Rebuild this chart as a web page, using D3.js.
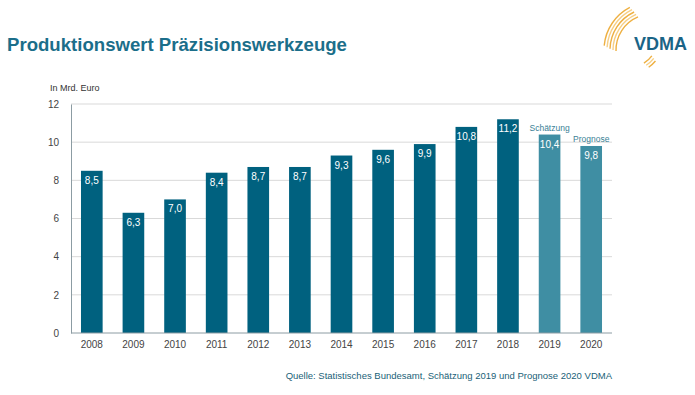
<!doctype html>
<html>
<head>
<script type='text/javascript' src='https://d3js.org/d3.v7.min.js'></script>
<style>
body { margin:0; background:#fff; }
text { font-family: Arial, 'Liberation Sans', sans-serif; }
</style>
</head>
<body>
<script>
var width = 695, height = 395;
var years = ['2008','2009','2010','2011','2012','2013','2014','2015','2016','2017','2018','2019','2020'];
var values = [8.5, 6.3, 7.0, 8.4, 8.7, 8.7, 9.3, 9.6, 9.9, 10.8, 11.2, 10.4, 9.8];
var notes = {'2019': 'Schätzung', '2020': 'Prognose'};
var yTicks = [0, 2, 4, 6, 8, 10, 12];

var svg = d3.select('body').append('svg').attr('width', width).attr('height', height);

var margin = {left: 71, right: 83, top: 104, bottom: 62};
var x = d3.scaleBand().domain(years).range([margin.left, width - margin.right]).paddingInner(0.48).paddingOuter(0.24);
var y = d3.scaleLinear().domain([0, 12]).range([height - margin.bottom, margin.top]);

// title
svg.append('text').attr('x', 7).attr('y', 51)
 .attr('font-size', 18.6).attr('font-weight', 'bold').attr('fill', '#1b6e8a')
 .text('Produktionswert Präzisionswerkzeuge');

// logo: golden swooshes + VDMA
var logo = svg.append('g').attr('transform', 'translate(652,50)');
[36, 39, 42, 45, 48].forEach(function(r, i) {
 logo.append('path')
  .attr('d', d3.arc()({innerRadius: r - 0.7, outerRadius: r + 0.7, startAngle: -1.6 + i * 0.03, endAngle: -0.4 - i * 0.02}))
  .attr('fill', i % 2 ? '#f6cf85' : '#eeb042');
});
var logo2 = svg.append('g').attr('transform', 'translate(630,40)');
[27, 30, 33].forEach(function(r, i) {
 logo2.append('path')
  .attr('d', d3.arc()({innerRadius: r - 0.7, outerRadius: r + 0.7, startAngle: 2.2 + i * 0.03, endAngle: 2.6 - i * 0.03}))
  .attr('fill', i % 2 ? '#f6cf85' : '#eeb042');
});
svg.append('text').attr('x', 634).attr('y', 50)
 .attr('font-size', 18).attr('font-weight', 'bold').attr('fill', '#1a6486')
 .text('VDMA');

// unit
svg.append('text').attr('x', 50).attr('y', 91).attr('font-size', 9).attr('fill', '#333').text('In Mrd. Euro');

// grid
svg.append('g').selectAll('line').data(yTicks.filter(function(d){return d > 0;})).join('line')
 .attr('x1', margin.left).attr('x2', width - margin.right)
 .attr('y1', function(d){return y(d);}).attr('y2', function(d){return y(d);})
 .attr('stroke', '#d9d9d9').attr('stroke-width', 1);

// y axis
var yAxis = svg.append('g').attr('transform', 'translate(' + margin.left + ',0)')
 .call(d3.axisLeft(y).tickValues(yTicks).tickSize(0).tickPadding(12));
yAxis.select('.domain').attr('stroke', '#8c9ca3');
yAxis.selectAll('text').attr('font-size', 10).attr('fill', '#444').attr('font-family', 'Arial, sans-serif');

// bars
svg.append('g').selectAll('rect').data(years).join('rect')
 .attr('x', function(d){return x(d);})
 .attr('width', x.bandwidth())
 .attr('y', function(d, i){return y(values[i]);})
 .attr('height', function(d, i){return y(0) - y(values[i]);})
 .attr('fill', function(d){return notes[d] ? '#3f8ea3' : '#00617f';});

// value labels
svg.append('g').selectAll('text').data(years).join('text')
 .attr('x', function(d){return x(d) + x.bandwidth() / 2;})
 .attr('y', function(d, i){return y(values[i]) + 13;})
 .attr('text-anchor', 'middle').attr('font-size', 10).attr('fill', '#fff')
 .text(function(d, i){return values[i].toFixed(1).replace('.', ',');});

svg.append('g').selectAll('text').data(years.filter(function(d){return notes[d];})).join('text')
 .attr('x', function(d){return x(d) + x.bandwidth() / 2;})
 .attr('y', function(d){return y(values[years.indexOf(d)]) - 4;})
 .attr('text-anchor', 'middle').attr('font-size', 8.5).attr('fill', '#3a7f96')
 .text(function(d){return notes[d];});

// x axis
var xAxis = svg.append('g').attr('transform', 'translate(0,' + y(0) + ')')
 .call(d3.axisBottom(x).tickSize(0).tickPadding(8));
xAxis.select('.domain').attr('stroke', '#8c9ca3').attr('d', 'M' + margin.left + ',0H' + (width - margin.right));
xAxis.selectAll('text').attr('font-size', 10).attr('fill', '#444').attr('font-family', 'Arial, sans-serif');

// source
svg.append('text').attr('x', 612).attr('y', 379).attr('text-anchor', 'end')
 .attr('font-size', 9.5).attr('fill', '#1a5f78')
 .text('Quelle: Statistisches Bundesamt, Schätzung 2019 und Prognose 2020 VDMA');
</script>
</body>
</html>
